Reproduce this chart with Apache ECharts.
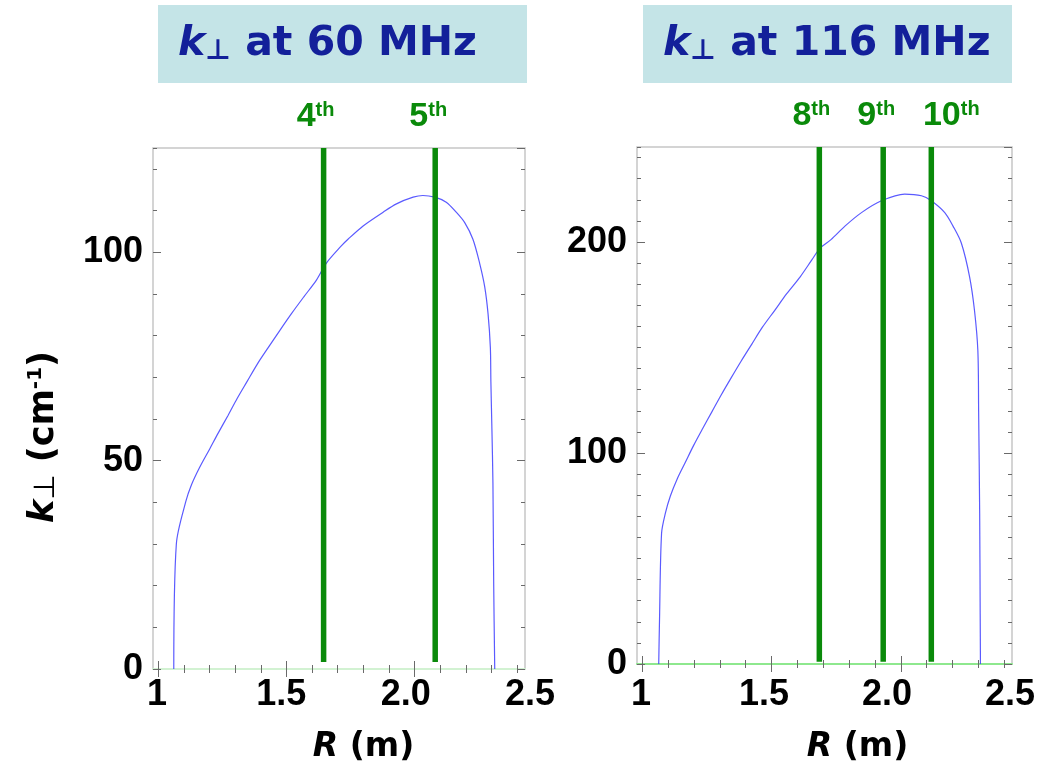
<!DOCTYPE html>
<html><head><meta charset="utf-8">
<script src="https://cdn.jsdelivr.net/npm/echarts@6/dist/echarts.min.js"></script>
<style>html,body{margin:0;padding:0;background:#fff}#c{width:1057px;height:770px}</style>
</head><body><div id="c"></div>
<script>
// ---- data ----
const R60 = [1.061,1.071,1.108,1.130,1.162,1.201,1.234,1.273,1.308,1.347,1.386,1.429,1.474,1.519,1.568,1.617,1.656,1.714,1.740,1.799,1.877,1.929,1.994,2.032,2.078,2.123,2.162,2.195,2.227,2.253,2.273,2.286,2.295,2.297,2.301,2.305,2.308,2.312];
const K60 = [0,30.0,40.2,44.2,48.4,52.8,56.6,60.9,64.9,69.0,73.1,77.1,81.2,85.2,89.3,93.3,97.4,101.5,103.1,106.3,109.6,111.6,113.2,113.6,113.2,112.0,109.6,107.1,103.1,97.4,91.7,85.2,77.1,69.0,57.6,44.6,20.3,0];
const R116 = [1.064,1.067,1.075,1.090,1.109,1.135,1.167,1.199,1.234,1.270,1.306,1.344,1.383,1.424,1.465,1.512,1.559,1.611,1.656,1.688,1.730,1.784,1.848,1.925,2.015,2.080,2.118,2.170,2.202,2.234,2.266,2.285,2.298,2.301,2.305,2.307,2.308];
const K116 = [0,20.5,62.0,71.6,79.6,87.6,95.6,103.6,111.6,119.6,127.6,135.6,143.6,151.6,159.6,167.5,175.5,183.5,191.5,197.1,201.1,207.5,213.9,219.5,222.7,221.9,219.5,213.9,207.5,199.5,183.5,167.5,148.4,119.6,71.6,23.7,0];
const harm60R = [1.645, 2.08];
const harm60N = ['4', '5'];
const harm116R = [1.685, 1.932, 2.118];
const harm116N = ['8', '9', '10'];
const xTickVals = [1, 1.5, 2, 2.5];
const xTickText = ['1', '1.5', '2.0', '2.5'];
const xMinorTicks = [1.0,1.1,1.2,1.3,1.4,1.5,1.6,1.7,1.8,1.9,2.0,2.1,2.2,2.3,2.4];
const xMajorTicks = [1.0, 1.5, 2.0];
const titles = ['at 60 MHz', 'at 116 MHz'];

// ---- layout / style ----
const GREEN = '#0a8a0a';
const TITLE_C = '#13209a';
const NAMEFONT = 'DejaVu Sans';
const TICKFONT = 'Liberation Sans';
const panels = [
  {main:{left:153, top:148, width:372, height:521}, lab:{left:157, width:373}, xMin:0.98, xMax:2.43,
   ymax:125, yLab:50, axisColor:'#d2f2d2', R:R60, K:K60, hR:harm60R, hN:harm60N, hOff:[-8,-7], hBottom:1.7,
   titleLeft:158, nameShift:40, yName:true},
  {main:{left:637, top:147, width:375, height:517}, lab:{left:641, width:369}, xMin:0.98, xMax:2.43,
   ymax:245, yLab:100, axisColor:'#8ee88e', R:R116, K:K116, hR:harm116R, hN:harm116N, hOff:[-8,-7,20], hBottom:1.1,
   titleLeft:643, nameShift:64, yName:false}
];

const grid = [], xAxis = [], yAxis = [], series = [], title = [];
const tickCol = '#6a6a6a';
panels.forEach((p, pi) => {
  const g0 = grid.length;
  grid.push({left:p.main.left, top:p.main.top, width:p.main.width, height:p.main.height, show:true,
             borderColor:'#c6c6c6', borderWidth:1.5, backgroundColor:'transparent'});
  grid.push({left:p.main.left, top:p.main.top, width:p.main.width, height:p.main.height});
  grid.push({left:p.lab.left, width:p.lab.width, top:205, height:464});
  const g1 = g0 + 1, g2 = g0 + 2;
  const noSplit = {show:false};
  const xMainIdx = xAxis.length;
  xAxis.push({type:'value', gridIndex:g0, position:'bottom', min:p.xMin, max:p.xMax,
    axisLine:{show:true, onZero:false, lineStyle:{color:p.axisColor, width:2}},
    axisTick:{show:true, inside:true, length:4, customValues:xMinorTicks, lineStyle:{color:tickCol, width:1}},
    axisLabel:{show:false}, splitLine:noSplit});
  xAxis.push({type:'value', gridIndex:g0, position:'top', min:p.xMin, max:p.xMax,
    axisLine:{show:false},
    axisTick:{show:true, inside:true, length:4, customValues:xMinorTicks, lineStyle:{color:tickCol, width:1}},
    axisLabel:{show:false}, splitLine:noSplit});
  ['bottom','top'].forEach(pos => xAxis.push({type:'value', gridIndex:g1, position:pos, min:p.xMin, max:p.xMax,
    axisLine:{show:false},
    axisTick:{show:true, inside:true, length:8, customValues:xMajorTicks, lineStyle:{color:tickCol, width:1}},
    axisLabel:{show:false}, splitLine:noSplit}));
  xAxis.push({type:'value', gridIndex:g2, position:'bottom', min:xTickVals[0], max:xTickVals[xTickVals.length-1], interval:0.5,
    axisLine:{show:false}, axisTick:{show:false}, splitLine:noSplit,
    axisLabel:{show:true, margin:8, color:'#000', fontSize:36, fontWeight:'bold', fontFamily:TICKFONT,
      formatter:v => { const i = xTickVals.findIndex(t => Math.abs(t - v) < 1e-6); return i >= 0 ? xTickText[i] : ''; }},
    name:'{r|R}{t| (m)}', nameLocation:'middle', nameGap:62,
    nameTextStyle:{padding:[0,0,0,p.nameShift], rich:{
      r:{fontFamily:NAMEFONT, fontWeight:'bold', fontStyle:'italic', fontSize:33, color:'#000'},
      t:{fontFamily:NAMEFONT, fontWeight:'bold', fontSize:33, color:'#000'}}}});

  const yMainIdx = yAxis.length;
  ['left','right'].forEach(pos => yAxis.push({type:'value', gridIndex:g0, position:pos, min:0, max:p.ymax, interval:10,
    axisLine:{show:false}, axisTick:{show:true, inside:true, length:4, lineStyle:{color:tickCol, width:1}},
    axisLabel:{show:false}, splitLine:noSplit}));
  yAxis.push({type:'value', gridIndex:g1, position:'left', min:0, max:p.ymax, interval:p.yLab,
    axisLine:{show:false}, axisTick:{show:true, inside:true, length:8, lineStyle:{color:tickCol, width:1}},
    axisLabel:{show:true, showMaxLabel:false, margin:10, color:'#000', fontSize:36, fontWeight:'bold', fontFamily:TICKFONT},
    splitLine:noSplit});
  yAxis.push({type:'value', gridIndex:g1, position:'right', min:0, max:p.ymax, interval:p.yLab,
    axisLine:{show:false}, axisTick:{show:true, inside:true, length:8, lineStyle:{color:tickCol, width:1}},
    axisLabel:{show:false}, splitLine:noSplit});
  yAxis.push({type:'value', gridIndex:g2, position:'left', min:0, max:1, show:p.yName,
    axisLine:{show:false}, axisTick:{show:false}, axisLabel:{show:false}, splitLine:noSplit,
    name:p.yName ? '{k|k}{s|⊥}{t| (cm}{u|-1}{t|)}' : '', nameLocation:'middle', nameGap:96, nameRotate:90,
    nameTextStyle:{rich:{
      k:{fontFamily:NAMEFONT, fontWeight:'bold', fontStyle:'italic', fontSize:35, color:'#000'},
      s:{fontFamily:NAMEFONT, fontSize:29, color:'#000', verticalAlign:'bottom'},
      t:{fontFamily:NAMEFONT, fontWeight:'bold', fontSize:35, color:'#000'},
      u:{fontFamily:NAMEFONT, fontWeight:'bold', fontSize:20, color:'#000', verticalAlign:'top'}}}});

  series.push({type:'line', xAxisIndex:xMainIdx, yAxisIndex:yMainIdx, data:p.R.map((r,i)=>[r, p.K[i]]),
    showSymbol:false, symbol:'none', smooth:0.3, z:3,
    lineStyle:{color:'#3d3dff', width:1.2, opacity:0.85}});
  p.hR.forEach((r, i) => {
    series.push({type:'line', xAxisIndex:xMainIdx, yAxisIndex:yMainIdx, z:4, symbol:'circle', symbolSize:0,
      lineStyle:{color:GREEN, width:5.5},
      data:[[r, p.hBottom], {value:[r, p.ymax], label:{show:true, position:'top', distance:14, offset:[p.hOff[i], 0],
        formatter:'{d|' + p.hN[i] + '}{s|th}',
        rich:{d:{fontFamily:TICKFONT, fontWeight:'bold', fontSize:34, color:GREEN},
              s:{fontFamily:TICKFONT, fontWeight:'bold', fontSize:20, color:GREEN, verticalAlign:'top'}}}}]});
  });
  title.push({text:'{k|k}{s|⊥}{t| ' + titles[pi] + '}', left:p.titleLeft, top:5, backgroundColor:'#c4e4e7',
    padding:[17,10,17,20],
    textStyle:{width:339, height:44, lineHeight:44, rich:{
      k:{fontFamily:NAMEFONT, fontWeight:'bold', fontStyle:'italic', fontSize:41, color:TITLE_C},
      s:{fontFamily:NAMEFONT, fontSize:28, color:TITLE_C, verticalAlign:'bottom'},
      t:{fontFamily:NAMEFONT, fontWeight:'bold', fontSize:41, color:TITLE_C}}}});
});

const chart = echarts.init(document.getElementById('c'), null, {renderer:'canvas'});
chart.setOption({animation:false, backgroundColor:'#fff', title, grid, xAxis, yAxis, series});
</script>
</body></html>
